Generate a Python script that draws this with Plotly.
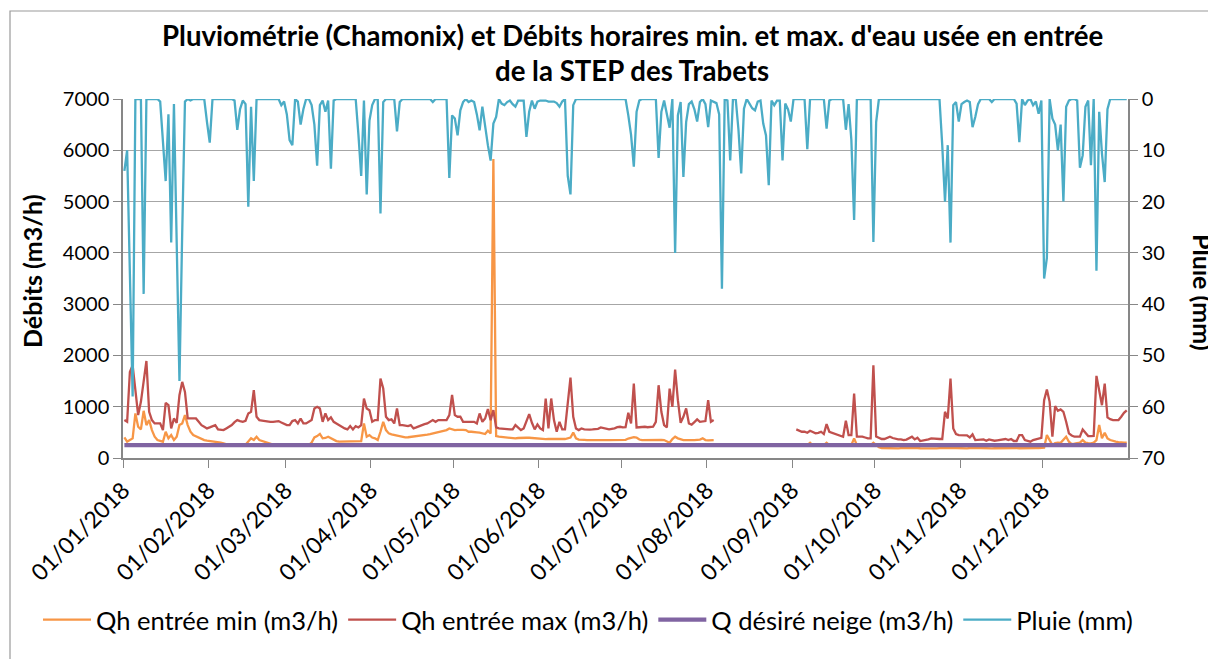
import pandas as pd
import plotly.graph_objects as go

# ---------------------------------------------------------------------------
# Daily data for 2018 (one line per month, January -> December)
# ---------------------------------------------------------------------------
YEAR_START = "2018-01-01"
N_DAYS = 365

# Rainfall at Chamonix (mm/day)
pluie = [
    14, 10, 34, 58, 0, 0, 0, 38, 0, 0, 0, 0, 0, 0.5, 8, 16, 3, 28, 1, 27, 55, 26, 0.5, 0, 0.3, 0, 0, 0, 0, 0, 4.5,
    8.5, 0, 0, 0, 0, 0, 0, 0, 0, 0.3, 6, 2, 0.3, 1, 21, 1.5, 16, 0, 0, 0, 0, 0, 0, 0, 0, 0, 1.2, 0.5,
    3, 8, 9, 0, 0.5, 5, 2, 0, 0, 1.2, 5, 13, 1.2, 0.3, 2.5, 0.3, 13.6, 0.3, 0, 0, 0, 0, 0, 0, 0, 0, 7, 15, 0.3, 18.6, 4.2,
    1.2, 0, 0, 22.3, 0.6, 0, 0, 0, 0, 6.3, 0.6, 0, 0, 0, 0, 0, 0, 0, 0, 0, 0, 0, 0.6, 0, 0, 0, 0, 0, 15.4, 3.2,
    3.8, 7.1, 2.2, 0.6, 0, 0.6, 0.3, 0.6, 3, 6.1, 1.5, 5.8, 9, 12, 4.8, 3.5, 0, 0.9, 1.2, 0.6, 0.3, 1, 1.5, 0.3, 0.3, 0.3, 7.4, 2.5, 0.3, 1.9, 0.5,
    0.3, 0.3, 0.3, 0.5, 0.5, 0.5, 0.8, 1.5, 0.5, 0, 15, 18.6, 1.2, 0, 0, 0, 0, 0, 0, 0, 0, 0, 0, 0, 0, 0, 0, 0, 0, 0,
    0, 0, 3.2, 7, 13.2, 2.5, 0.3, 0, 0, 0, 0, 0, 0, 11.5, 2.5, 0.3, 3, 5.6, 0, 30, 3.2, 0.6, 15.2, 4.5, 1, 0.5, 2, 4.4, 0.6, 0, 1,
    5.5, 0.3, 0.5, 0.8, 3, 37, 0, 0.3, 12, 0, 0, 6, 14.5, 1.9, 0, 1, 1.8, 2.2, 0.5, 0.3, 4.8, 7.1, 16.8, 0.3, 1.2, 0.3, 0.3, 12, 0.9, 2, 4.4,
    0, 0, 0, 0, 0, 9.8, 0, 0, 0, 0, 0, 0, 5.8, 0.3, 0, 0, 0, 0, 0, 6, 1, 8, 23.6, 0, 0, 0, 0, 0, 0, 27.9,
    4.5, 0, 0, 0, 0, 0, 0, 0, 0, 0, 0, 0, 0, 0, 0, 0, 0, 0, 0, 0, 0, 0, 0, 0, 9, 20, 9, 28, 1.2, 0.6, 4.4,
    1, 0.6, 0.3, 0.6, 5.5, 3.5, 1, 0, 0, 0, 0, 0.6, 0, 0, 0, 0, 0, 0, 0, 0, 0.9, 8.4, 0, 1.2, 0.3, 0, 1.2, 0.5, 2.9, 0.3,
    35, 31, 0, 3.8, 5, 10, 5, 20, 1.5, 0.3, 0, 0, 0.3, 13.4, 11, 1.5, 0.3, 12.9, 0, 33.5, 2.5, 10.6, 16.2, 2, 0, 0, 0, 0, 0, 0, 0,
]

# Minimum hourly inflow (m3/h); None = no measurement
qh_min = [
    402, 318, 350, 383, 868, 609, 557, 920, 642, 739, 544, 415, 350, 330, 318, 512, 383, 447, 350, 415, 642, 674, 836, 642, 512, 447, 420, 402, 380, 350, 340,
    331, 325, 318, 318, 300, 285, 260, 250, 250, 245, 250, 255, 250, 260, 318, 383, 350, 415, 350, 330, 318, 300, 285, 260, 250, 250, 245, 250,
    250, 250, 245, 250, 250, 255, 250, 250, 255, 300, 402, 428, 470, 383, 390, 415, 390, 350, 330, 318, 318, 318, 318, 318, 318, 318, 318, 330, 674, 415, 447,
    400, 383, 350, 512, 706, 544, 480, 460, 447, 430, 415, 410, 402, 405, 410, 415, 420, 428, 435, 447, 455, 465, 480, 495, 512, 520, 531, 545, 577, 560,
    544, 550, 557, 550, 544, 512, 512, 512, 500, 493, 480, 467, 531, 480, 5830, 428, 415, 410, 402, 395, 390, 383, 383, 390, 395, 395, 395, 395, 390, 380, 375,
    370, 372, 368, 370, 373, 370, 366, 370, 372, 370, 380, 400, 495, 383, 360, 350, 352, 348, 350, 353, 350, 347, 350, 352, 350, 348, 350, 353, 350, 352,
    350, 355, 380, 400, 405, 400, 360, 350, 352, 348, 350, 353, 350, 348, 352, 350, 330, 298, 370, 415, 383, 363, 350, 350, 345, 350, 350, 355, 360, 383, 350,
    345, 350, 350, None, None, None, None, None, None, None, None, None, None, None, None, None, None, None, None, None, None, None, None, None, None, None, None, None, None, None, None,
    None, 250, 245, 250, 255, 250, 298, 245, 250, 250, 245, 250, 298, 250, 245, 250, 250, 245, 250, 260, 250, 255, 383, 250, 245, 250, 250, 245, 250, 298,
    250, 210, 195, 192, 190, 195, 193, 190, 188, 192, 195, 190, 188, 190, 193, 195, 190, 188, 190, 192, 195, 190, 188, 192, 190, 195, 193, 190, 192, 195, 190,
    192, 190, 188, 195, 200, 205, 200, 195, 190, 192, 190, 188, 190, 192, 195, 190, 188, 192, 190, 193, 195, 190, 188, 190, 192, 195, 190, 192, 195, 198,
    200, 447, 350, 253, 290, 300, 295, 350, 415, 318, 272, 280, 290, 300, 350, 300, 290, 285, 300, 350, 642, 383, 493, 383, 350, 330, 318, 310, 300, 298, 298,
]

# Maximum hourly inflow (m3/h); None = no measurement
qh_max = [
    739, 706, 1678, 1808, 1322, 836, 1095, 1452, 1892, 901, 739, 674, 674, 674, 544, 1076, 1030, 577, 771, 687, 1225, 1484, 1290, 771, 771, 771, 771, 706, 640, 609, 577,
    596, 620, 642, 557, 550, 544, 577, 610, 642, 700, 739, 720, 706, 726, 869, 901, 1322, 804, 739, 730, 720, 712, 706, 706, 706, 720, 693, 660,
    642, 642, 720, 739, 674, 771, 674, 674, 700, 739, 966, 998, 966, 706, 868, 739, 791, 706, 674, 642, 600, 577, 557, 622, 557, 622, 596, 642, 1160, 966, 933,
    706, 739, 739, 1549, 1354, 804, 739, 752, 674, 966, 642, 642, 630, 622, 642, 577, 596, 620, 642, 660, 674, 700, 739, 706, 739, 739, 739, 739, 836, 1230,
    836, 804, 804, 706, 706, 706, 706, 706, 674, 868, 706, 771, 953, 739, 933, 596, 577, 577, 577, 565, 557, 560, 642, 596, 544, 577, 706, 855, 687, 557, 655,
    577, 544, 1160, 577, 1160, 739, 512, 706, 557, 557, 1063, 1568, 804, 577, 544, 577, 560, 550, 555, 557, 557, 570, 596, 580, 570, 557, 570, 577, 600, 609,
    596, 600, 881, 674, 1452, 596, 600, 605, 609, 600, 605, 609, 706, 1419, 901, 642, 596, 1354, 998, 1724, 1128, 687, 804, 966, 674, 650, 700, 752, 706, 706, 720,
    1128, 706, 739, None, None, None, None, None, None, None, None, None, None, None, None, None, None, None, None, None, None, None, None, None, None, None, None, None, None, None, None,
    None, 557, 530, 512, 512, 493, 531, 512, 480, 490, 512, 467, 661, 512, 490, 480, 447, 430, 415, 726, 447, 447, 1257, 415, 415, 415, 400, 383, 383, 1808,
    420, 402, 370, 370, 390, 415, 390, 370, 365, 363, 350, 360, 395, 415, 363, 395, 331, 340, 350, 363, 383, 375, 370, 370, 370, 901, 771, 1549, 577, 467, 447,
    447, 447, 440, 400, 460, 350, 350, 355, 363, 337, 363, 350, 337, 345, 350, 360, 370, 350, 370, 331, 331, 447, 447, 350, 330, 318, 350, 370, 383, 395,
    1128, 1335, 1095, 415, 1011, 920, 946, 901, 706, 480, 440, 415, 415, 415, 557, 480, 428, 428, 430, 1601, 1322, 1030, 1452, 791, 758, 739, 739, 739, 804, 880, 930,
]

# Target flow during snow period (m3/h), constant over the year
Q_DESIRE_NEIGE = 250
q_neige = [Q_DESIRE_NEIGE] * N_DAYS

dates = pd.date_range(YEAR_START, periods=N_DAYS, freq="D")

# ---------------------------------------------------------------------------
# Layout geometry (pixels)
# ---------------------------------------------------------------------------
W, H = 1208, 659
ML, MR, MT, MB = 123, 80, 99, 201
PW, PH = W - ML - MR, H - MT - MB


def px_x(px):
    return (px - ML) / PW


def px_y(py):
    return (H - MB - py) / PH


FONT = "Lato, 'Open Sans', sans-serif"
GRID = "#A6A6A6"
AXIS = "#878787"
DAY_MS = 86400000

fig = go.Figure()

series = [
    ("Qh entrée min (m3/h)", qh_min, "#F79646", 2.3, "y"),
    ("Qh entrée max (m3/h)", qh_max, "#C0504D", 2.3, "y"),
    ("Q désiré neige (m3/h)", q_neige, "#8064A2", 4.2, "y"),
    ("Pluie (mm)", pluie, "#4BACC6", 2.3, "y2"),
]
for i, (name, values, color, width, yax) in enumerate(series):
    fig.add_trace(go.Scatter(
        x=dates, y=values, name=name, yaxis=yax,
        legendgroup=f"g{i}",
        xperiod=DAY_MS, xperiodalignment="middle",
        mode="lines", connectgaps=False,
        line=dict(color=color, width=width),
        cliponaxis=False,
    ))

fig.update_layout(
    width=W, height=H,
    margin=dict(l=ML, r=MR, t=MT, b=MB, autoexpand=False),
    paper_bgcolor="white", plot_bgcolor="white",
    font=dict(family=FONT, size=20, color="black"),
    showlegend=True,
    legend=dict(
        orientation="h", x=px_x(38), xanchor="left",
        y=px_y(620), yanchor="middle",
        font=dict(size=25.5), itemwidth=48, tracegroupgap=22,
        bgcolor="rgba(0,0,0,0)", traceorder="grouped",
    ),
    xaxis=dict(
        type="date", range=[YEAR_START, "2018-12-31 23:00"],
        tick0=YEAR_START, dtick="M1", tickformat="%d/%m/%Y",
        tickangle=-45, ticks="outside", ticklen=8, tickcolor=AXIS,
        showline=True, linecolor=AXIS, linewidth=1.5,
        showgrid=False, zeroline=False, automargin=False,
        tickfont=dict(size=23),
    ),
    yaxis=dict(
        range=[0, 7000], dtick=1000, tick0=0,
        ticks="outside", ticklen=8, tickcolor=AXIS,
        showline=True, linecolor=AXIS, linewidth=1.5,
        showgrid=True, gridcolor=GRID, gridwidth=1,
        zeroline=False, automargin=False,
        tickfont=dict(size=20),
    ),
    yaxis2=dict(
        overlaying="y", side="right",
        range=[70, 0], dtick=10, tick0=0,
        ticks="outside", ticklen=8, tickcolor=AXIS,
        showline=True, linecolor=AXIS, linewidth=1.5,
        showgrid=False, zeroline=False, automargin=False,
        tickfont=dict(size=20),
    ),
    annotations=[
        dict(text="<b>Pluviométrie (Chamonix) et Débits horaires min. et max. d'eau usée en entrée</b>",
             xref="paper", yref="paper", x=px_x(632), y=px_y(36),
             xanchor="center", yanchor="middle", showarrow=False,
             font=dict(size=27.6)),
        dict(text="<b>de la STEP des Trabets</b>",
             xref="paper", yref="paper", x=px_x(632), y=px_y(70),
             xanchor="center", yanchor="middle", showarrow=False,
             font=dict(size=27.6)),
        dict(text="<b>Débits (m3/h)</b>",
             xref="paper", yref="paper", x=px_x(32), y=px_y(271),
             xanchor="center", yanchor="middle", showarrow=False,
             textangle=-90, font=dict(size=25)),
        dict(text="<b>Pluie (mm)</b>",
             xref="paper", yref="paper", x=px_x(1203), y=px_y(292),
             xanchor="center", yanchor="middle", showarrow=False,
             textangle=90, font=dict(size=25)),
    ],
    shapes=[
        # chart border
        dict(type="rect", xref="paper", yref="paper",
             x0=px_x(10), x1=px_x(1260), y0=px_y(700), y1=px_y(11),
             line=dict(color="#9A9A9A", width=1.2), layer="below"),
    ],
)

fig.write_html("out.html")
